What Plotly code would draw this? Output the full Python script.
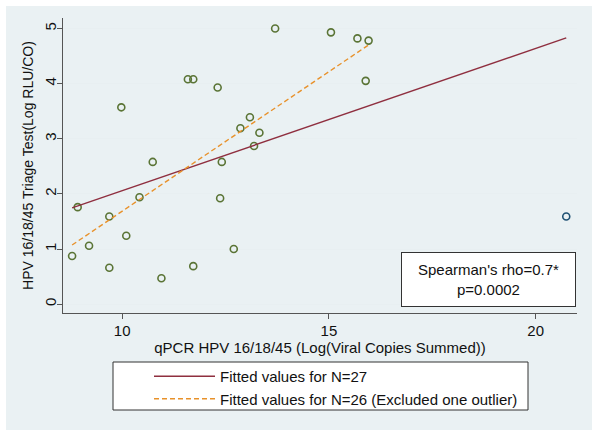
import numpy as np
import plotly.graph_objects as go

# Data
qpcr = [13.70, 11.59, 11.72, 12.31, 9.98, 13.09, 12.86, 13.32, 13.19, 10.74, 12.41,
        10.42, 12.37, 15.05, 15.69, 15.96, 15.89, 8.925, 9.69, 10.10, 9.20, 8.79,
        9.69, 10.95, 11.72, 12.70]
triage = [5.00, 4.08, 4.08, 3.93, 3.57, 3.39, 3.19, 3.11, 2.87, 2.58, 2.58,
          1.94, 1.92, 4.93, 4.82, 4.78, 4.05, 1.76, 1.59, 1.24, 1.06, 0.875,
          0.66, 0.47, 0.69, 1.00]
outlier_x = [20.74]
outlier_y = [1.59]

x_ticks = [10, 15, 20]
y_ticks = [0, 1, 2, 3, 4, 5]

all_x = np.array(qpcr + outlier_x)
all_y = np.array(triage + outlier_y)
b27 = np.polyfit(all_x, all_y, 1)
x27 = np.sort(all_x)
b26 = np.polyfit(np.array(qpcr), np.array(triage), 1)
x26 = np.sort(np.array(qpcr))

L, T, W, H = 63, 18, 514, 295


def px(xp):
    return (xp - L) / W


def py(yp):
    return (T + H - yp) / H


fig = go.Figure()
fig.add_trace(go.Scatter(x=qpcr, y=triage, mode="markers", showlegend=False,
                         marker=dict(symbol="circle-open", size=7, color="#5a7435",
                                     line=dict(width=1.6, color="#5a7435"))))
fig.add_trace(go.Scatter(x=outlier_x, y=outlier_y, mode="markers", showlegend=False,
                         marker=dict(symbol="circle-open", size=7, color="#1f5173",
                                     line=dict(width=1.6, color="#1f5173"))))
fig.add_trace(go.Scatter(x=x27, y=np.polyval(b27, x27), mode="lines",
                         name="Fitted values for N=27",
                         line=dict(color="#8f2f3f", width=1.4)))
fig.add_trace(go.Scatter(x=x26, y=np.polyval(b26, x26), mode="lines",
                         name="Fitted values for N=26 (Excluded one outlier)",
                         line=dict(color="#e8912a", width=1.4, dash="5px,3px")))

fig.update_layout(
    width=600, height=434,
    margin=dict(l=L, r=600 - L - W, t=T, b=434 - T - H),
    paper_bgcolor="white", plot_bgcolor="white",
    font=dict(family="Liberation Sans, Arial, sans-serif", size=15, color="#111"),
    xaxis=dict(range=[8.57, 21.0], tickvals=x_ticks, showgrid=False, zeroline=False,
               showline=True, linecolor="#555", linewidth=1, ticks="outside",
               ticklen=5, tickcolor="#555", tickfont=dict(size=15),
               ticklabelstandoff=-1,
               title=dict(text="qPCR HPV 16/18/45 (Log(Viral Copies Summed))",
                          font=dict(size=15), standoff=0)),
    yaxis=dict(range=[-0.16, 5.19], tickvals=y_ticks, showgrid=True,
               gridcolor="#e8eff1", gridwidth=1, zeroline=False,
               showline=True, linecolor="#555", linewidth=1, ticks="outside",
               ticklen=5, tickcolor="#555", tickangle=-90, tickfont=dict(size=15),
               ticklabelstandoff=-5,
               title=dict(text="HPV 16/18/45 Triage Test(Log RLU/CO)",
                          font=dict(size=14), standoff=5)),
    legend=dict(x=px(149), xanchor="left", y=py(360), yanchor="top",
                bgcolor="rgba(0,0,0,0)", borderwidth=0,
                font=dict(size=15), tracegroupgap=0, itemwidth=61),
    shapes=[dict(type="rect", xref="paper", yref="paper", layer="below",
                 x0=px(6), x1=px(592), y0=py(430), y1=py(6),
                 fillcolor="#eaf1f3", line=dict(width=0)),
            dict(type="rect", xref="paper", yref="paper", layer="above",
                 x0=px(113), x1=px(528), y0=py(410), y1=py(362),
                 fillcolor="white", line=dict(width=1, color="#333"))],
    annotations=[dict(xref="paper", yref="paper", x=px(488.5), y=py(279.5),
                      xanchor="center", yanchor="middle",
                      text="Spearman's rho=0.7*<br>p=0.0002", showarrow=False,
                      font=dict(size=15), align="center",
                      bgcolor="white", bordercolor="#333", borderwidth=1,
                      width=171, height=51)],
)

fig.write_html("out.html", config={"displayModeBar": False},
               post_script="document.body.style.margin='0';")
